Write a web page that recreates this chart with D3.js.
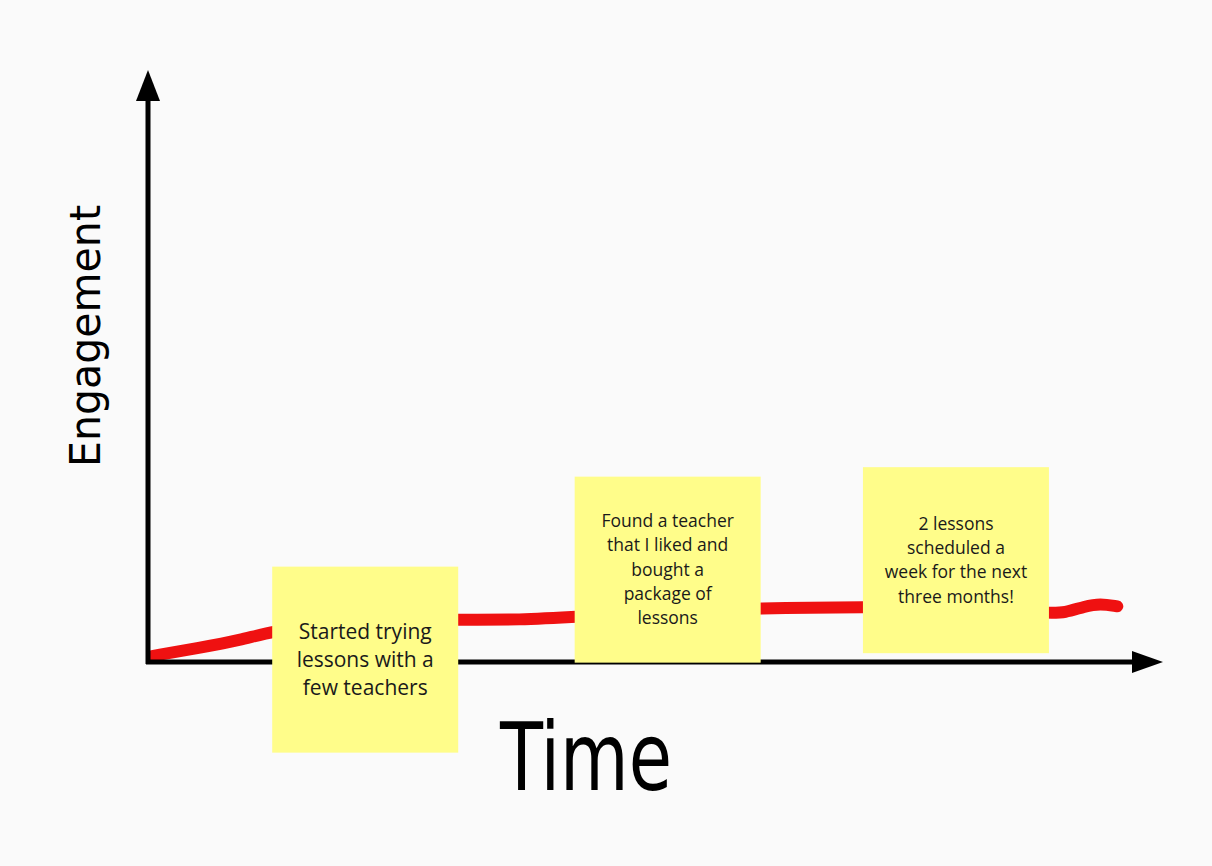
<!DOCTYPE html>
<html lang="en">
  <head>
    <meta charset="UTF-8">
    <title>Engagement over Time</title>
    <script src="https://d3js.org/d3.v7.min.js"></script>
    <style>
      body { margin: 0; background: #fafafa; }
    </style>
  </head>
  <body>
    <svg id="chart" width="1212" height="866"></svg>
  <script>
    // engagement curve (time 0-100, engagement 0-100)
    var times      = [0.4, 5.1, 9.1, 12.3, 16.9, 22.0, 30.5, 36.7, 42.1, 51.0, 60.4, 70.4, 80.0, 88.8, 90.3, 92.3, 93.8, 95.5];
    var engagement = [1.0, 2.4, 3.7, 5.2, 6.3, 7.0, 7.2, 7.1, 7.6, 8.5, 9.1, 9.3, 9.2, 8.2, 8.3, 9.4, 9.9, 9.4];

    // sticky notes: centre in data units
    var noteTimes  = [21.4, 51.2, 79.6];
    var noteLevels = [0.4, 15.6, 17.2];
    var noteTexts  = [
      ["Started trying", "lessons with a", "few teachers"],
      ["Found a teacher", "that I liked and", "bought a", "package of", "lessons"],
      ["2 lessons", "scheduled a", "week for the next", "three months!"]
    ];

    var svg = d3.select("#chart");

    var x = d3.scaleLinear().domain([0, 100]).range([148, 1163]);
    var y = d3.scaleLinear().domain([0, 100]).range([662, 70]);

    // red engagement line
    var line = d3.line()
      .x(function(d, i) { return x(times[i]); })
      .y(function(d) { return y(d); })
      .curve(d3.curveBasis);

    svg.append("path")
      .datum(engagement)
      .attr("d", line)
      .attr("fill", "none")
      .attr("stroke", "#ef1111")
      .attr("stroke-width", 12)
      .attr("stroke-linecap", "round")
      .attr("stroke-linejoin", "round");

    // axes
    var axes = svg.append("g");
    axes.append("line")
      .attr("x1", x(0)).attr("y1", y(0) + 2)
      .attr("x2", x(0)).attr("y2", y(95))
      .attr("stroke", "#000").attr("stroke-width", 5);
    axes.append("line")
      .attr("x1", x(0) - 2).attr("y1", y(0))
      .attr("x2", x(97)).attr("y2", y(0))
      .attr("stroke", "#000").attr("stroke-width", 5);

    // arrow heads
    axes.append("path")
      .attr("d", "M" + x(0) + "," + y(100) + " L" + (x(0) + 12) + "," + (y(100) + 31) +
                 " L" + (x(0) - 12) + "," + (y(100) + 31) + "Z")
      .attr("fill", "#000");
    axes.append("path")
      .attr("d", "M" + x(100) + "," + y(0) + " L" + (x(100) - 31) + "," + (y(0) - 11) +
                 " L" + (x(100) - 31) + "," + (y(0) + 11) + "Z")
      .attr("fill", "#000");

    // sticky notes
    var size = 186;
    var notes = svg.selectAll(".note")
      .data(noteTexts)
      .enter()
      .append("g")
      .attr("class", "note")
      .attr("transform", function(d, i) {
        return "translate(" + x(noteTimes[i]) + "," + y(noteLevels[i]) + ")";
      });

    notes.append("rect")
      .attr("x", -size / 2).attr("y", -size / 2)
      .attr("width", size).attr("height", size)
      .attr("fill", "#fffd8a");

    notes.each(function(d, i) {
      var fs = i == 0 ? 21 : 17.5;
      var lh = i == 0 ? 28 : 24.3;
      var start = -(d.length - 1) * lh / 2;
      d3.select(this).selectAll("text")
        .data(d)
        .enter()
        .append("text")
        .attr("x", 0)
        .attr("y", function(t, j) { return start + j * lh; })
        .attr("dy", "0.35em")
        .attr("text-anchor", "middle")
        .attr("font-family", "'Open Sans', Lato, sans-serif")
        .attr("font-size", fs + "px")
        .attr("fill", "#1a1a1a")
        .text(function(t) { return t; });
    });

    // axis titles
    svg.append("text")
      .attr("x", 500)
      .attr("y", 790)
      .attr("font-family", "'Liberation Sans Narrow', 'DejaVu Sans Condensed', sans-serif")
      .attr("font-size", "94px")
      .attr("textLength", 172)
      .attr("lengthAdjust", "spacingAndGlyphs")
      .attr("fill", "#000")
      .text("Time");

    svg.append("text")
      .attr("transform", "translate(100,467) rotate(-90)")
      .attr("font-family", "'Liberation Sans Narrow', 'DejaVu Sans Condensed', sans-serif")
      .attr("font-size", "42px")
      .attr("textLength", 262)
      .attr("lengthAdjust", "spacingAndGlyphs")
      .attr("fill", "#000")
      .text("Engagement");
  </script>
  </body>
</html>
